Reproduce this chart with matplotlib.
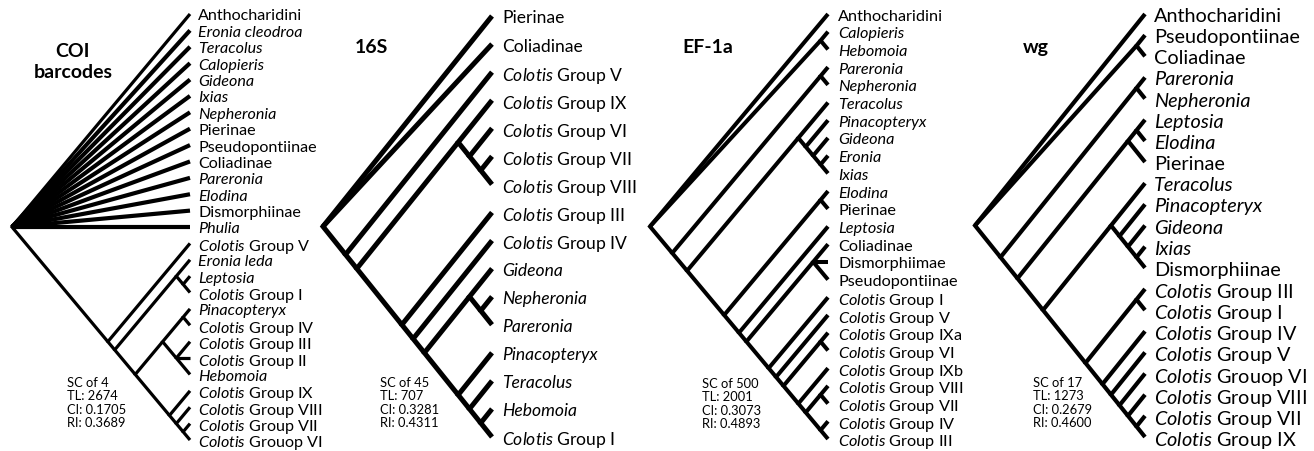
import matplotlib
matplotlib.use('Agg')
import matplotlib.pyplot as plt

plt.rcParams['font.family'] = ['Lato', 'DejaVu Sans']
plt.rcParams['mathtext.fontset'] = 'custom'
plt.rcParams['mathtext.it'] = 'Lato:italic'
plt.rcParams['mathtext.rm'] = 'Lato'

W, H = 1314, 452

# --- data: tree topologies (nested tuples, leaves top to bottom) ---
coi_tree = ('Anthocharidini', 'Eronia cleodroa', 'Teracolus', 'Calopieris', 'Gideona',
            'Ixias', 'Nepheronia', 'Pierinae', 'Pseudopontiinae', 'Coliadinae',
            'Pareronia', 'Elodina', 'Dismorphiinae', 'Phulia',
            ('Colotis Group V',
             (('Eronia leda', ('Leptosia', 'Colotis Group I')),
              ((('Pinacopteryx', 'Colotis Group IV'),
                ('Colotis Group III', 'Colotis Group II', 'Hebomoia')),
               ('Colotis Group IX',
                ('Colotis Group VIII', ('Colotis Group VII', 'Colotis Grouop VI')))))))

s16_tree = ('Pierinae', 'Coliadinae',
            ('Colotis Group V',
             (('Colotis Group IX', ('Colotis Group VI', ('Colotis Group VII', 'Colotis Group VIII'))),
              ('Colotis Group III',
               ('Colotis Group IV',
                (('Gideona', ('Nepheronia', 'Pareronia')),
                 ('Pinacopteryx', ('Teracolus', ('Hebomoia', 'Colotis Group I')))))))))

ef1a_tree = ('Anthocharidini', ('Calopieris', 'Hebomoia'),
             (('Pareronia', 'Nepheronia'),
              (('Teracolus', ('Pinacopteryx', ('Gideona', ('Eronia', 'Ixias')))),
               (('Elodina', 'Pierinae'),
                ('Leptosia',
                 (('Coliadinae', 'Dismorphiimae', 'Pseudopontiinae'),
                  ('Colotis Group I',
                   ('Colotis Group V',
                    (('Colotis Group IXa', 'Colotis Group VI'),
                     ('Colotis Group IXb',
                      (('Colotis Group VIII', 'Colotis Group VII'),
                       ('Colotis Group IV', 'Colotis Group III'))))))))))))

wg_tree = ('Anthocharidini', ('Pseudopontiinae', 'Coliadinae'),
           (('Pareronia', 'Nepheronia'),
            ((('Leptosia', 'Elodina'), 'Pierinae'),
             (('Teracolus', ('Pinacopteryx', ('Gideona', ('Ixias', 'Dismorphiinae')))),
              (('Colotis Group III', 'Colotis Group I'),
               ('Colotis Group IV',
                ('Colotis Group V',
                 ('Colotis Grouop VI',
                  ('Colotis Group VIII', ('Colotis Group VII', 'Colotis Group IX'))))))))))

titles = ['COI\nbarcodes', '16S', 'EF-1a', 'wg']
coi_stats = ['SC of 4', 'TL: 2674', 'CI: 0.1705', 'RI: 0.3689']
s16_stats = ['SC of 45', 'TL: 707', 'CI: 0.3281', 'RI: 0.4311']
ef1a_stats = ['SC of 500', 'TL: 2001', 'CI: 0.3073', 'RI: 0.4893']
wg_stats = ['SC of 17', 'TL: 1273', 'CI: 0.2679', 'RI: 0.4600']

higher_taxa = ['Anthocharidini', 'Pierinae', 'Pseudopontiinae', 'Coliadinae',
               'Dismorphiinae', 'Dismorphiimae']

# --- panel layout (pixels) ---
panels = [
    dict(tree=coi_tree, stats=coi_stats, title=titles[0], span=(0, 322), tip=190, root=12,
         ytop=15, ybot=441, gap=8, fs=11.6, lw=2.3, fan_lw=3.0,
         title_xy=(73, 57), title_ha='center', stats_xy=(67, 387)),
    dict(tree=s16_tree, stats=s16_stats, title=titles[1], span=(322, 648), tip=492, root=323,
         ytop=17, ybot=438, gap=10, fs=12.6, lw=3.6, fan_lw=3.6,
         title_xy=(355, 53), title_ha='left', stats_xy=(380, 387)),
    dict(tree=ef1a_tree, stats=ef1a_stats, title=titles[2], span=(648, 972), tip=828, root=650,
         ytop=15, ybot=440, gap=10, fs=11.7, lw=2.9, fan_lw=2.9,
         title_xy=(682, 53), title_ha='left', stats_xy=(702, 388)),
    dict(tree=wg_tree, stats=wg_stats, title=titles[3], span=(972, 1314), tip=1145, root=975,
         ytop=15, ybot=438, gap=9, fs=14.3, lw=3.0, fan_lw=3.0,
         title_xy=(1023, 53), title_ha='left', stats_xy=(1033, 387)),
]


def layout(tree):
    # slanted cladogram: tips at x=0, node x = -(leaf span)/2
    leaves, paths, spokes = [], [], []

    def walk(t, depth):
        if isinstance(t, str):
            leaves.append(t)
            i = len(leaves) - 1
            return 0.0, float(i), i, i
        kids = [walk(c, depth + 1) for c in t]
        lo, hi = kids[0][2], kids[-1][3]
        x, y = -(hi - lo) / 2.0, (lo + hi) / 2.0
        paths.append(([kids[0][0], x, kids[-1][0]], [kids[0][1], y, kids[-1][1]]))
        for k in kids[1:-1]:
            spokes.append(([x, k[0]], [y, k[1]], depth == 0 and k[0] == 0.0))
        return x, y, lo, hi

    walk(tree, 0)
    return leaves, paths, spokes


def fmt(name):
    if name.startswith('Colotis '):
        return r'$\mathit{Colotis}$' + name[7:], 'normal'
    if name in higher_taxa:
        return name, 'normal'
    return name, 'italic'


fig = plt.figure(figsize=(W / 100, H / 100), dpi=100)

for p in panels:
    leaves, paths, spokes = layout(p['tree'])
    n = len(leaves)
    sx = (p['tip'] - p['root']) / ((n - 1) / 2.0)
    sy = (p['ybot'] - p['ytop']) / (n - 1.0)
    a, b = p['span']
    ax = fig.add_axes([a / W, 0, (b - a) / W, 1])
    ax.set_xlim((a - p['tip']) / sx, (b - p['tip']) / sx)
    ax.set_ylim((H - p['ytop']) / sy, -p['ytop'] / sy)
    ax.axis('off')

    for xs, ys in paths:
        ax.plot(xs, ys, color='black', lw=p['lw'], solid_joinstyle='miter',
                solid_capstyle='butt', clip_on=False)
    for xs, ys, fan in spokes:
        ax.plot(xs, ys, color='black', lw=p['fan_lw'] if fan else p['lw'],
                solid_capstyle='butt', clip_on=False)

    for i, name in enumerate(leaves):
        label, style = fmt(name)
        ax.text(p['gap'] / sx, i, label, fontsize=p['fs'], style=style,
                ha='left', va='center_baseline')

    tx, ty = p['title_xy']
    for j, line in enumerate(p['title'].split('\n')):
        fig.text(tx / W, 1 - (ty + 21 * j) / H, line, fontsize=14, fontweight='bold',
                 ha=p['title_ha'], va='baseline')

    sx0, sy0 = p['stats_xy']
    for j, line in enumerate(p['stats']):
        fig.text(sx0 / W, 1 - (sy0 + 13.3 * j) / H, line, fontsize=9.3,
                 ha='left', va='baseline')

fig.savefig('out.png', dpi=100)
